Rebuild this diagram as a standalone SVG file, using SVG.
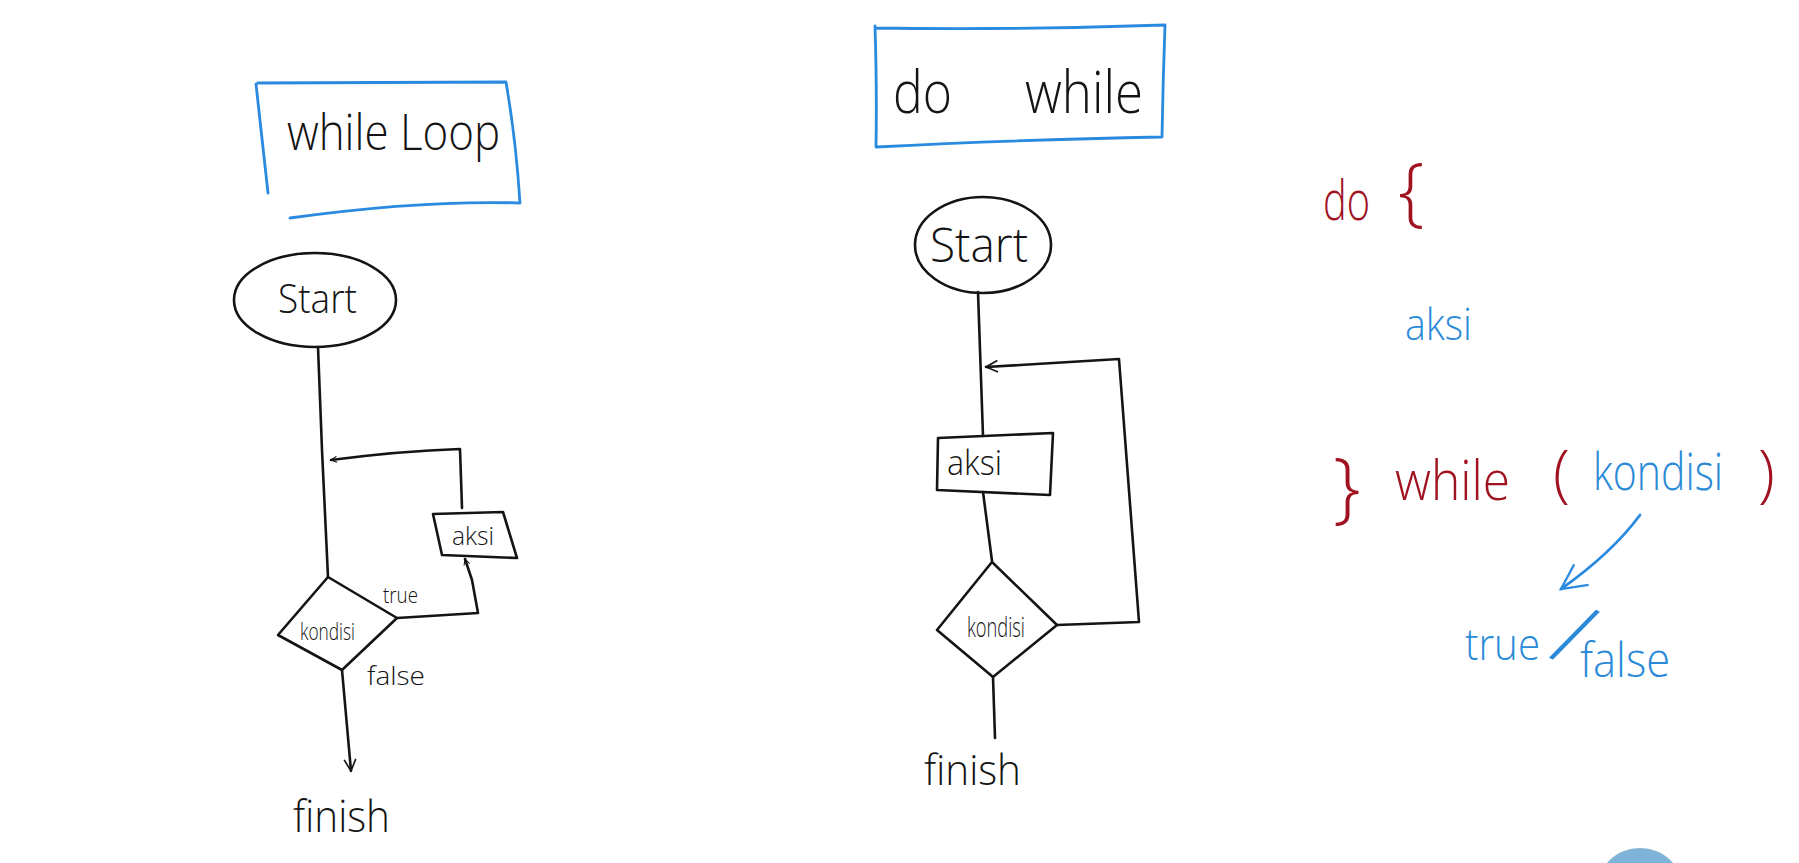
<svg xmlns="http://www.w3.org/2000/svg" width="1799" height="863" viewBox="0 0 1799 863">
<style>
.ink{fill:none;stroke:#141414;stroke-width:2.6;stroke-linecap:round;stroke-linejoin:round}
.bl{fill:none;stroke:#2a8ae0;stroke-width:2.8;stroke-linecap:round;stroke-linejoin:round}
.t{font-family:"Open Sans","Liberation Sans",sans-serif;font-weight:300;fill:#141414}
.red{fill:#a0121f}
.blue{fill:#2a8ad8}
</style>
<defs>
<marker id="ah" viewBox="0 0 12 12" refX="11" refY="6" markerWidth="7" markerHeight="7" orient="auto" markerUnits="userSpaceOnUse">
<path d="M1,1 L11,6 L1,11" fill="none" stroke="#141414" stroke-width="1.8"/>
</marker>
<marker id="ahL" viewBox="0 0 12 12" refX="11" refY="6" markerWidth="14" markerHeight="14" orient="auto" markerUnits="userSpaceOnUse">
<path d="M1,1 L11,6 L1,11" fill="none" stroke="#141414" stroke-width="1.4"/>
</marker>
<marker id="ahB" viewBox="0 0 12 12" refX="11" refY="6" markerWidth="30" markerHeight="30" orient="auto" markerUnits="userSpaceOnUse">
<path d="M1,1 L11,6 L1,11" fill="none" stroke="#2a8ae0" stroke-width="0.9"/>
</marker>
</defs>
<rect width="1799" height="863" fill="#ffffff"/>

<g id="title-while">
<path class="bl" d="M256,84 Q262,140 268,193 M258,83 L506,82 Q516,140 520,203 Q420,200 290,218"/>
<text class="t" x="287" y="150" font-size="50" textLength="213" lengthAdjust="spacingAndGlyphs">while Loop</text>
</g>

<g id="title-dowhile">
<path class="bl" d="M875,26 Q877,90 876,147 Q1010,140 1162,137 Q1163,80 1165,25 Q1020,30 875,28"/>
<text class="t" y="113" font-size="58"><tspan x="893" textLength="59" lengthAdjust="spacingAndGlyphs">do</tspan><tspan x="1025" textLength="118" lengthAdjust="spacingAndGlyphs">while</tspan></text>
</g>

<g id="start-left">
<ellipse class="ink" cx="315" cy="300" rx="81" ry="47"/>
<text class="t" x="278" y="313" font-size="40" textLength="79" lengthAdjust="spacingAndGlyphs">Start</text>
</g>

<g id="aksi-left">
<polygon class="ink" points="433,514 503,512 517,558 442,555"/>
<text class="t" x="452" y="545" font-size="26" textLength="42" lengthAdjust="spacingAndGlyphs">aksi</text>
</g>

<g id="kondisi-left">
<polygon class="ink" points="328,577 397,618 342,670 278,635"/>
<text class="t" x="300" y="640" font-size="24" textLength="55" lengthAdjust="spacingAndGlyphs">kondisi</text>
</g>

<g id="finish-left">
<text class="t" x="293" y="832" font-size="44" textLength="97" lengthAdjust="spacingAndGlyphs">finish</text>
</g>

<g id="start-mid">
<ellipse class="ink" cx="983" cy="245" rx="68" ry="48"/>
<text class="t" x="930" y="262" font-size="48" textLength="98" lengthAdjust="spacingAndGlyphs">Start</text>
</g>

<g id="aksi-mid">
<polygon class="ink" points="938,438 1053,433 1050,495 937,490"/>
<text class="t" x="947" y="475" font-size="34" textLength="55" lengthAdjust="spacingAndGlyphs">aksi</text>
</g>

<g id="kondisi-mid">
<polygon class="ink" points="992,562 1057,625 993,677 937,630"/>
<text class="t" x="967" y="637" font-size="28" textLength="58" lengthAdjust="spacingAndGlyphs">kondisi</text>
</g>

<g id="finish-mid">
<text class="t" x="924" y="785" font-size="42" textLength="97" lengthAdjust="spacingAndGlyphs">finish</text>
</g>

<g id="connectors">
<path class="ink" d="M318,347 L322,450 L328,577"/>
<path class="ink" d="M462,508 L460,449 Q400,451 331,460" marker-end="url(#ah)"/>
<path class="ink" d="M397,618 L478,613 L472,580 L465,559" marker-end="url(#ah)"/>
<path class="ink" d="M342,670 L351,771" marker-end="url(#ahL)"/>
<path class="ink" d="M978,292 L983,436"/>
<path class="ink" d="M983,492 L992,561"/>
<path class="ink" d="M1057,625 L1139,622 L1119,359 L986,367" marker-end="url(#ahL)"/>
<path class="ink" d="M993,677 L995,738"/>
<path class="bl" d="M1640,515 Q1612,553 1561,589" marker-end="url(#ahB)"/>
</g>

<g id="label-true">
<text class="t" x="383" y="603" font-size="22" textLength="35" lengthAdjust="spacingAndGlyphs">true</text>
</g>
<g id="label-false">
<text class="t" x="367" y="685" font-size="26" textLength="58" lengthAdjust="spacingAndGlyphs">false</text>
</g>

<g id="code">
<text class="t red" x="1323" y="220" font-size="55" textLength="47" lengthAdjust="spacingAndGlyphs">do</text>
<text class="t red" x="1398" y="217" font-size="75">{</text>
<text class="t blue" x="1405" y="340" font-size="45" textLength="67" lengthAdjust="spacingAndGlyphs">aksi</text>
<text class="t red" x="1333" y="514" font-size="78">}</text>
<text class="t red" x="1395" y="500" font-size="55" textLength="115" lengthAdjust="spacingAndGlyphs">while</text>
<text class="t red" x="1553" y="495" font-size="62">(</text>
<text class="t blue" x="1593" y="490" font-size="52" textLength="130" lengthAdjust="spacingAndGlyphs">kondisi</text>
<text class="t red" x="1758" y="495" font-size="62">)</text>
</g>

<g id="truefalse">
<text class="t blue" x="1465" y="660" font-size="45" textLength="75" lengthAdjust="spacingAndGlyphs">true</text>
<text class="t blue" x="1559" y="666" font-size="88" transform="rotate(24 1574 636)">/</text>
<text class="t blue" x="1580" y="677" font-size="48" textLength="90" lengthAdjust="spacingAndGlyphs">false</text>
</g>

<circle cx="1640" cy="892" r="44" fill="#80b3d8"/>
</svg>
